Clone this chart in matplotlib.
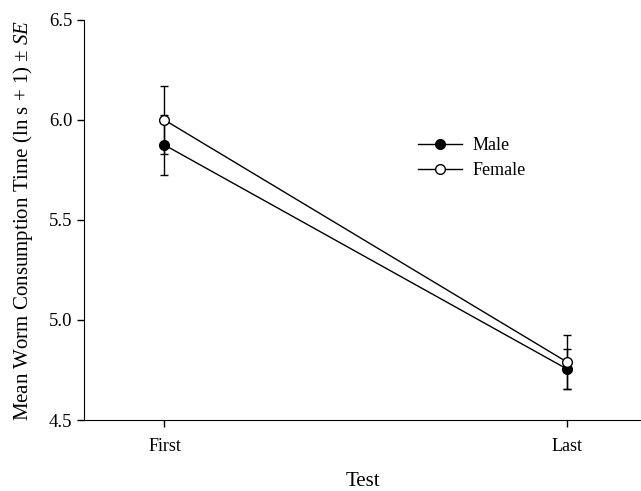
import matplotlib
matplotlib.use('Agg')
import matplotlib.pyplot as plt
from matplotlib.lines import Line2D

plt.rcParams['font.family'] = ['Liberation Serif', 'DejaVu Serif']
plt.rcParams['mathtext.fontset'] = 'custom'
plt.rcParams['mathtext.it'] = 'Liberation Serif:italic'
plt.rcParams['mathtext.rm'] = 'Liberation Serif'

tests = ['First', 'Last']
male_mean = [5.875, 4.755]
male_se = [0.15, 0.10]
female_mean = [6.0, 4.79]
female_se = [0.17, 0.135]

x = [1, 2]

fig = plt.figure(figsize=(6.41, 4.91), dpi=100)
ax = fig.add_axes([0.131, 0.1446, 0.869, 0.8147])

ax.errorbar(x, male_mean, yerr=male_se, color='black', lw=1.0, marker='o',
            ms=7, mfc='black', mec='black', capsize=3, elinewidth=1.0, zorder=3)
ax.errorbar(x, female_mean, yerr=female_se, color='black', lw=1.0, marker='o',
            ms=7, mfc='white', mec='black', capsize=3, elinewidth=1.0, zorder=4)

ax.set_xlim(0.8, 2.184)
ax.set_ylim(4.5, 6.5)
ax.set_xticks(x)
ax.set_xticklabels(tests, fontsize=13)
ax.set_yticks([4.5, 5.0, 5.5, 6.0, 6.5])
ax.set_yticklabels(['4.5', '5.0', '5.5', '6.0', '6.5'], fontsize=13.5)
ax.tick_params(direction='out', length=5, width=1)
ax.tick_params(axis='x', pad=8)
ax.spines['top'].set_visible(False)
ax.spines['right'].set_visible(False)

ax.set_xlabel('Test', fontsize=15, labelpad=12)
ax.set_ylabel(r'Mean Worm Consumption Time (ln s + 1) $\pm$ $SE$', fontsize=15, labelpad=10)

handles = [
    Line2D([], [], color='black', lw=1.0, marker='o', ms=7, mfc='black', mec='black'),
    Line2D([], [], color='black', lw=1.0, marker='o', ms=7, mfc='white', mec='black'),
]
ax.legend(handles, ['Male', 'Female'], loc='upper left', bbox_to_anchor=(0.6, 0.707),
          frameon=False, fontsize=13, handlelength=2.4, handletextpad=0.6,
          labelspacing=0.45, borderpad=0, borderaxespad=0)

fig.savefig('out.png', dpi=100)
